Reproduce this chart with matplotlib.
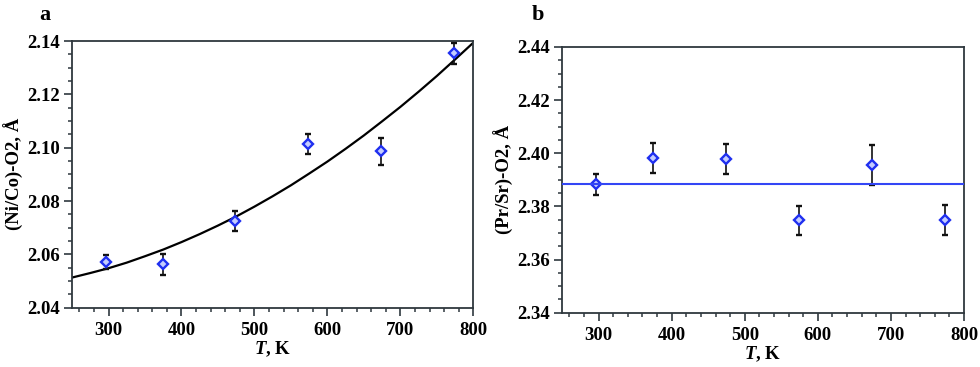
import matplotlib
matplotlib.use("Agg")
import matplotlib.pyplot as plt
from matplotlib.ticker import MultipleLocator, FormatStrFormatter

plt.rcParams['font.family'] = ['Liberation Serif', 'DejaVu Serif']
plt.rcParams['font.weight'] = 'bold'
plt.rcParams['mathtext.fontset'] = 'custom'
plt.rcParams['mathtext.rm'] = 'Liberation Serif:weight=bold'
plt.rcParams['mathtext.it'] = 'Liberation Serif:style=italic:weight=bold'
plt.rcParams['mathtext.bf'] = 'Liberation Serif:weight=bold'

# ---- data ----
T = [297, 375, 474, 574, 674, 774]

ni_co = [2.0571, 2.0562, 2.0724, 2.1014, 2.0987, 2.1354]
ni_co_err = [0.0027, 0.0039, 0.0038, 0.0038, 0.0051, 0.0039]

fit_T = [250, 275, 300, 325, 350, 375, 400, 425, 450, 475, 500, 525,
         550, 575, 600, 625, 650, 675, 700, 725, 750, 775, 800]
fit_ni_co = [2.0513, 2.0530, 2.0548, 2.0569, 2.0593, 2.0618, 2.0646,
             2.0676, 2.0708, 2.0742, 2.0779, 2.0818, 2.0859, 2.0903,
             2.0948, 2.0996, 2.1046, 2.1099, 2.1153, 2.1210, 2.1269,
             2.1331, 2.1394]

pr_sr = [2.3883, 2.3982, 2.3978, 2.3747, 2.3957, 2.3748]
pr_sr_err = [0.0039, 0.0057, 0.0056, 0.0056, 0.0075, 0.0057]
pr_sr_mean = 2.3883

x_ticks = [300, 400, 500, 600, 700, 800]

fig = plt.figure(figsize=(9.8, 3.67), dpi=100)
axA = fig.add_axes([0.0735, 0.1616, 0.4095, 0.7266])
axB = fig.add_axes([0.5735, 0.148, 0.4102, 0.724])

spine_col = '#2f383e'
blue = '#1f2ff0'


def style(ax, ylim, ymaj, ymin):
    ax.set_xlim(250, 800)
    ax.set_ylim(*ylim)
    ax.set_xticks(x_ticks)
    ax.xaxis.set_minor_locator(MultipleLocator(20))
    ax.yaxis.set_major_locator(MultipleLocator(ymaj))
    ax.yaxis.set_minor_locator(MultipleLocator(ymin))
    ax.yaxis.set_major_formatter(FormatStrFormatter('%.2f'))
    for s in ax.spines.values():
        s.set_color(spine_col)
        s.set_linewidth(1.3)
    ax.tick_params(which='major', direction='out', length=5.5, width=1.2,
                   color=spine_col, labelsize=13.5, pad=3.5)
    ax.tick_params(which='minor', direction='out', length=3, width=1.1,
                   color=spine_col)
    ax.tick_params(axis='x', which='major', pad=5)
    ax.set_xlabel(r'$T$, K', fontsize=13.5, fontweight='bold', labelpad=0)


style(axA, (2.04, 2.14), 0.02, 0.005)
style(axB, (2.34, 2.44), 0.02, 0.005)

axA.plot(fit_T, fit_ni_co, color='black', lw=1.6, zorder=2)
axA.errorbar(T, ni_co, yerr=ni_co_err, fmt='D', ms=5, mfc='#c4ccff',
             mec=blue, mew=1.7, ecolor='#111111', elinewidth=1.2,
             capsize=2.5, capthick=1.2, zorder=3)
axA.set_ylabel('(Ni/Co)-O2, Å', fontsize=13.5, fontweight='bold', labelpad=2)

axB.axhline(pr_sr_mean, color='#3346f5', lw=1.5, zorder=4)
axB.errorbar(T, pr_sr, yerr=pr_sr_err, fmt='D', ms=5, mfc='#c4ccff',
             mec=blue, mew=1.7, ecolor='#111111', elinewidth=1.2,
             capsize=2.5, capthick=1.2, zorder=3)
axB.set_ylabel('(Pr/Sr)-O2, Å', fontsize=13.5, fontweight='bold', labelpad=2)

fig.text(45 / 980, 1 - 15 / 367, 'a', fontsize=16, fontweight='bold',
         ha='center', va='center')
fig.text(538 / 980, 1 - 15 / 367, 'b', fontsize=16, fontweight='bold',
         ha='center', va='center')

fig.savefig('out.png', dpi=100)
